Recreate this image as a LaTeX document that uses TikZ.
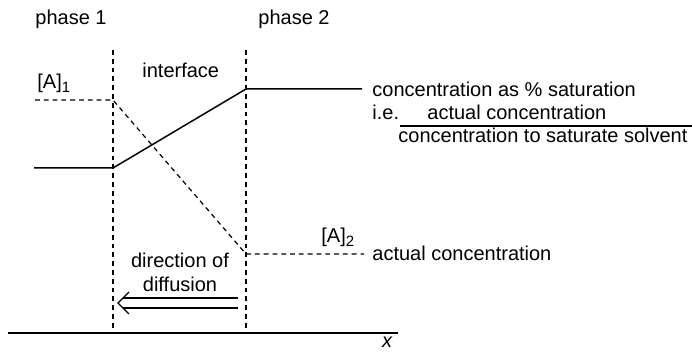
\documentclass[tikz,border=0pt]{standalone}
\usepackage{fontspec}
\setmainfont{Liberation Sans}
\begin{document}
\begin{tikzpicture}[x=0.5pt,y=-0.5pt,
  lbl/.style={inner sep=0pt,font=\fontsize{10pt}{12pt}\selectfont},
  dsh/.style={line width=0.6pt,dash pattern=on 2.4pt off 2pt},
  sol/.style={line width=0.75pt},
  thin/.style={line width=0.55pt}]
\useasboundingbox (0,0) rectangle (692,352);
% coordinates
\coordinate (v1t) at (113,50);
\coordinate (v1b) at (113,330);
\coordinate (v2t) at (246,50);
\coordinate (v2b) at (246,330);
\coordinate (s0) at (34,168);
\coordinate (s1) at (113,168);
\coordinate (s2) at (246,89);
\coordinate (s3) at (362,89);
\coordinate (d0) at (35,100);
\coordinate (d1) at (113,100);
\coordinate (d2) at (246,254);
\coordinate (d3) at (364,254);
\coordinate (ax0) at (8,333);
\coordinate (ax1) at (398,333);
\coordinate (fr0) at (400,126);
\coordinate (fr1) at (692,126);
\coordinate (ar1a) at (238,298);
\coordinate (ar1b) at (123,298);
\coordinate (ar2a) at (238,308);
\coordinate (ar2b) at (123,308);
\coordinate (chT) at (129,292);
\coordinate (chM) at (118,303);
\coordinate (chB) at (129,314);
% dashed verticals
\draw[dsh] (v1t) -- (v1b);
\draw[dsh] (v2t) -- (v2b);
% solid profile
\draw[sol] (s0) -- (s1) -- (s2) -- (s3);
% dashed profile
\draw[dsh] (d0) -- (d1) -- (d2) -- (d3);
% axis
\draw[thin] (ax0) -- (ax1);
% fraction line
\draw[thin] (fr0) -- (fr1);
% double arrow
\draw[thin] (ar1a) -- (ar1b);
\draw[thin] (ar2a) -- (ar2b);
\draw[thin] (chT) -- (chM) -- (chB);
% labels
\node[lbl,anchor=base west] (p1) at (35,25) {phase 1};
\node[lbl,anchor=base west] (p2) at (258,25) {phase 2};
\node[lbl,anchor=base west] (intf) at (142,78) {interface};
\node[lbl,anchor=base west] (a1) at (37,89) {[A]\raisebox{-0.35ex}{\fontsize{7.5pt}{9pt}\selectfont 1}};
\node[lbl,anchor=base west] (cs) at (372,97) {concentration as \% saturation};
\node[lbl,anchor=base west] (ie) at (372,120) {i.e.};
\node[lbl,anchor=base west] (num) at (427,120) {actual concentration};
\node[lbl,anchor=base west] (den) at (398,143) {concentration to saturate solvent};
\node[lbl,anchor=base west] (a2) at (321,243) {[A]\raisebox{-0.35ex}{\fontsize{7.5pt}{9pt}\selectfont 2}};
\node[lbl,anchor=base west] (ac) at (372,261) {actual concentration};
\node[lbl,anchor=base] (dir) at (180,268) {direction of};
\node[lbl,anchor=base] (dif) at (180,292) {diffusion};
\node[lbl,anchor=base] (xl) at (387,348) {\itshape x};
\end{tikzpicture}
\end{document}
